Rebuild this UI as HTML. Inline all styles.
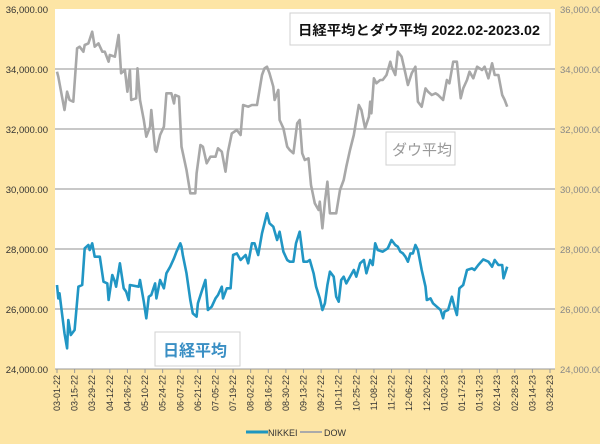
<!DOCTYPE html>
<html><head><meta charset="utf-8"><style>
html,body{margin:0;padding:0;background:#fde5a5;}
svg{display:block;font-family:"Liberation Sans","Noto Sans CJK JP",sans-serif;}
</style></head><body>
<svg id="chart" width="600" height="444" viewBox="0 0 600 444" xmlns="http://www.w3.org/2000/svg">
<rect x="0" y="0" width="600" height="444" fill="#fde5a5"/>
<rect x="55" y="9" width="500" height="360" fill="#ffffff"/>
<g id="grid"></g><g id="yleft"></g><g id="yright"></g><g id="xaxis"></g><g id="series"></g>
<g>
<rect x="290" y="13" width="260" height="32" fill="#fff" stroke="#d0d0d0"/>
<text x="298" y="35" font-size="13.5" font-weight="bold" fill="#111" textLength="242" lengthAdjust="spacingAndGlyphs">日経平均とダウ平均 2022.02-2023.02</text></g>
<g>
<rect x="386" y="132" width="69" height="33" fill="#fff" stroke="#d0d0d0"/>
<text x="392" y="155" font-size="15" fill="#999">ダウ平均</text></g>
<g>
<rect x="155" y="332" width="85" height="34" fill="#fff" stroke="#d0d0d0"/>
<text x="163" y="356" font-size="16" font-weight="bold" fill="#3a8fc4">日経平均</text></g>
<g>
<line x1="246" y1="432" x2="268" y2="432" stroke="#1e96c0" stroke-width="3"/>
<text x="268" y="436" font-size="9" fill="#333">NIKKEI</text>
<line x1="300" y1="432" x2="322" y2="432" stroke="#aaa" stroke-width="2"/>
<text x="324" y="436" font-size="9" fill="#333">DOW</text></g>
</svg>
<script>
const yTicks=[24000,26000,28000,30000,32000,34000,36000];
const xTickLabels=["03-01-22","03-15-22","03-29-22","04-12-22","04-26-22","05-10-22","05-24-22","06-07-22","06-21-22","07-05-22","07-19-22","08-02-22","08-16-22","08-30-22","09-13-22","09-27-22","10-11-22","10-25-22","11-08-22","11-22-22","12-06-22","12-20-22","01-03-23","01-17-23","01-31-23","02-14-23","02-28-23","03-14-23","03-28-23"];
const dowDays=[0,1,4,6,8,10,13,16,18,21,22,25,28,30,33,36,38,41,42,46,49,51,54,56,58,59,63,64,66,69,71,74,75,78,79,82,85,87,91,93,94,97,99,103,106,110,111,114,116,119,122,126,128,131,134,136,139,143,146,148,152,155,159,161,163,165,167,169,172,173,176,177,180,183,185,188,191,193,195,197,200,202,205,208,209,211,213,215,217,220,222,225,228,230,233,236,238,240,242,245,248,249,250,252,254,257,259,262,265,266,269,271,274,277,279,282,285,287,290,293,295,298,301,303,307,310,312,315,318,321,323,326,328,331,334,338,340,343,346,348,351,354,356,358];
const dowVals=[33911,33744,33078,32633,33244,32966,32911,34689,34744,34578,34800,34855,35244,34744,34855,34578,34578,34244,34466,34411,35133,33855,33966,33244,33966,32966,33022,34022,32966,32300,31744,32078,32633,31300,31244,31800,32078,33189,33189,32855,33133,33078,31411,30633,29855,29855,30522,31466,31411,30855,31078,31078,31355,31244,30578,31244,31855,31966,31800,32800,32744,32800,32800,33300,33800,34022,34078,33855,33411,32966,33300,32300,32022,31411,31300,31189,32189,32300,31189,30966,31022,30133,29522,29300,29578,28689,29578,30244,29189,29189,29189,29966,30300,30744,31300,31800,32300,32800,32633,32022,32411,32911,32522,33689,33522,33633,33633,33800,34244,34078,33800,34578,34411,33855,33466,33855,34078,32911,32744,33355,33244,33133,33189,33133,32966,33633,33522,34244,34244,33022,33355,33633,33911,33689,34078,33966,34078,33689,34189,33800,33800,33133,32966,32744];
const nkDays=[0,1,2,4,6,8,9,11,14,17,20,22,25,26,28,30,34,37,40,41,44,46,47,50,53,55,57,58,65,66,69,71,73,75,78,79,82,85,87,90,93,95,98,99,100,103,106,108,111,112,115,118,120,123,126,128,131,132,135,138,140,143,146,150,152,155,157,160,163,165,167,169,172,175,177,180,183,185,188,190,193,196,199,201,204,206,209,211,213,215,217,220,222,224,226,228,230,233,236,238,241,244,246,249,251,253,255,259,263,266,269,271,273,275,277,279,281,283,285,287,290,293,294,297,299,302,305,307,308,311,314,316,318,320,323,326,330,332,335,339,343,346,348,351,354,355,358];
const nkVals=[26800,26355,26522,25855,25189,24689,25633,25133,25300,26744,26800,28022,28133,27966,28189,27744,27744,26911,26855,26300,27133,26911,26744,27522,26689,26577,26300,26800,26744,26966,26244,25689,26411,26466,26855,26355,26966,26689,27189,27411,27689,27911,28189,28077,27800,27189,26300,25855,25744,26189,26577,26966,25966,26077,26355,26466,26744,26355,26689,26689,27800,27855,27633,27800,27522,28189,28189,27800,28522,28855,29189,28855,28744,28300,28577,27911,27633,27577,27577,28189,28577,27577,27577,27633,27189,26744,26355,25966,26189,26800,27244,27077,26411,26244,26966,27077,26855,27077,27300,27077,27522,27633,27189,27633,27466,28189,27966,27911,28022,28300,28133,28077,27911,27855,27744,27577,27855,27855,28133,27966,27300,26744,26300,26355,26189,26077,25966,25689,25911,25966,26411,26077,25800,26689,26800,27300,27355,27300,27466,27655,27577,27411,27633,27466,27466,27022,27411];

const NS="http://www.w3.org/2000/svg";
const PX0=55,PX1=555,PY0=9,PY1=369;
const yScale=v=>PY1-(v-24000)/(36000-24000)*(PY1-PY0);
const xScale=d=>57+d*(550-57)/392;
function mk(tag,attrs,parent){const e=document.createElementNS(NS,tag);for(const k in attrs)e.setAttribute(k,attrs[k]);parent.appendChild(e);return e;}
const fmt=v=>v.toLocaleString("en-US")+".00";
const grid=document.getElementById("grid"),yl=document.getElementById("yleft"),yr=document.getElementById("yright"),xa=document.getElementById("xaxis"),ser=document.getElementById("series");
yTicks.forEach(v=>{
  const y=yScale(v);
  if(v>24000&&v<36000){const g=mk("line",{x1:PX0,x2:PX1,y1:y,y2:y,stroke:"#b5b5b5","stroke-width":1.5},grid);
  
  }
  const t=mk("text",{x:48,y:y+4,"font-size":9.5,"text-anchor":"end",fill:"#333"},yl);t.textContent=fmt(v);
  
  
  const t2=mk("text",{x:560,y:y+4,"font-size":9.5,fill:"#888"},yr);t2.textContent=fmt(v);
  
  
});
const ax=mk("line",{x1:PX0,x2:PX1,y1:PY1,y2:PY1,stroke:"#999","stroke-width":1},xa);


xTickLabels.forEach((s,i)=>{
  const x=xScale(i*14);
  const tk=mk("line",{x1:x,x2:x,y1:PY1,y2:PY1+4,stroke:"#999"},xa);
  
  
  const t=mk("text",{x:0,y:0,"font-size":9,"text-anchor":"end",fill:"#333",transform:`translate(${x+3},${PY1+6}) rotate(-90)`},xa);
  t.textContent=s;
  
  
});
function line(days,vals,color,name){
  const d=days.map((dd,i)=>(i?"L":"M")+xScale(dd).toFixed(1)+","+yScale(vals[i]).toFixed(1)).join("");
  const p=mk("path",{d:d,fill:"none",stroke:color,"stroke-width":2.6,"stroke-linejoin":"round"},ser);
  
  
}
line(dowDays,dowVals,"#a8a8a8","dow-line");
line(nkDays,nkVals,"#2196c4","nikkei-line");
</script>
</body></html>
